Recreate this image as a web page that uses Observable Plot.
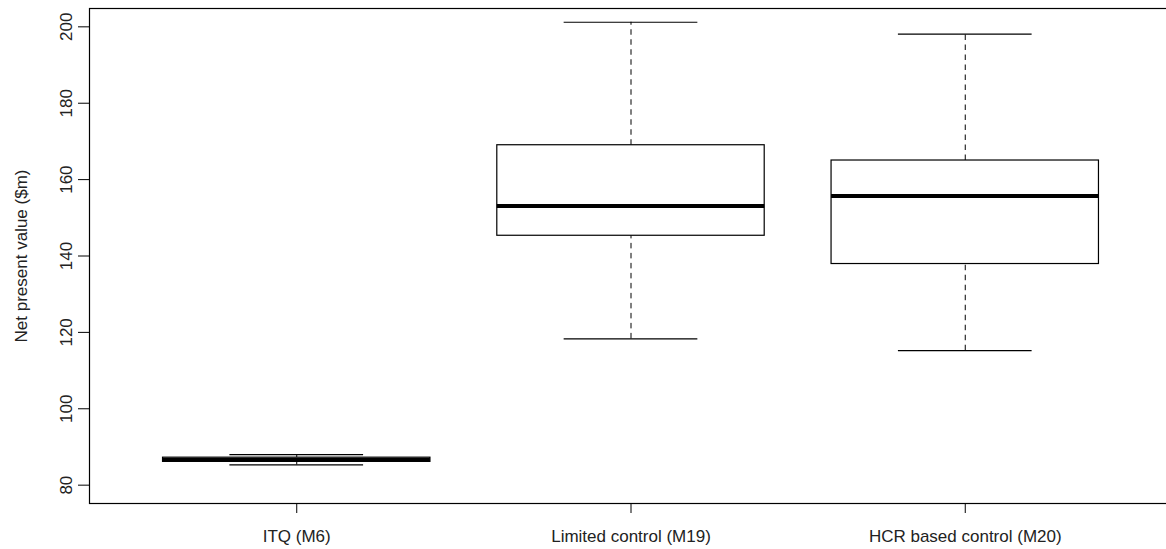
<!DOCTYPE html>
<html>
<head>
<meta charset="utf-8">
<script src="https://cdn.jsdelivr.net/npm/d3@7"></script>
<script src="https://cdn.jsdelivr.net/npm/@observablehq/plot@0.6"></script>
<style>
  html, body { margin: 0; padding: 0; overflow: hidden; background: #fff; }
  #chart { width: 1166px; height: 549px; overflow: hidden; }
  #chart svg { display: block; max-width: none !important; width: 1180px !important; height: 549px !important; }
</style>
</head>
<body>
<div id="chart"></div>
<script>
// Box statistics
const categories   = ["ITQ (M6)", "Limited control (M19)", "HCR based control (M20)"];
const lowerWhisker = [85.3, 118.3, 115.2];
const lowerQuart   = [86.1, 145.3, 137.9];
const medians      = [86.65, 153.1, 155.7];
const upperQuart   = [87.2, 169.0, 165.0];
const upperWhisker = [88.0, 201.2, 198.1];
const yTicks       = [80, 100, 120, 140, 160, 180, 200];
const yLabel       = "Net present value ($m)";

const rows = categories.map((c, i) => ({
  name: c, pos: i + 1,
  lo: lowerWhisker[i], q1: lowerQuart[i], med: medians[i], q3: upperQuart[i], hi: upperWhisker[i]
}));

const font = "Liberation Sans, Arial, sans-serif";
const fs = 17;

const chart = Plot.plot({
  width: 1180,
  height: 549,
  marginLeft: 89,
  marginRight: 8,
  marginTop: 8,
  marginBottom: 46,
  style: { fontFamily: font, fontSize: fs + "px", color: "#222", background: "white" },
  x: { domain: [0.38, 3.62], axis: null },
  y: { domain: [75.2, 204.8], axis: null },
  marks: [
    // whiskers (dashed)
    Plot.ruleX(rows, { x: "pos", y1: "q3", y2: "hi", stroke: "black", strokeWidth: 1, strokeDasharray: "5.5,4.5" }),
    Plot.ruleX(rows, { x: "pos", y1: "lo", y2: "q1", stroke: "black", strokeWidth: 1, strokeDasharray: "5.5,4.5" }),
    // whisker caps
    Plot.ruleY(rows, { y: "hi", x1: d => d.pos - 0.2, x2: d => d.pos + 0.2, stroke: "black", strokeWidth: 1.2 }),
    Plot.ruleY(rows, { y: "lo", x1: d => d.pos - 0.2, x2: d => d.pos + 0.2, stroke: "black", strokeWidth: 1.2 }),
    // boxes
    Plot.rect(rows, { x1: d => d.pos - 0.4, x2: d => d.pos + 0.4, y1: "q1", y2: "q3", fill: "white", stroke: "black", strokeWidth: 1.2 }),
    // medians
    Plot.ruleY(rows, { y: "med", x1: d => d.pos - 0.4, x2: d => d.pos + 0.4, stroke: "black", strokeWidth: 4 }),
    // frame (right edge falls outside the visible window)
    Plot.frame({ stroke: "black", strokeWidth: 1.2 }),
    // x axis
    Plot.axisX({
      ticks: [1, 2, 3],
      tickFormat: d => categories[d - 1],
      tickSize: 10,
      tickPadding: 16,
      stroke: "black",
      fontSize: fs,
      fill: "#222",
      label: null
    }),
    // y axis ticks
    Plot.axisY({
      ticks: yTicks,
      tickSize: 11,
      tickFormat: () => "",
      stroke: "black",
      label: null
    }),
    // y tick labels (rotated, as in R)
    Plot.text(yTicks, {
      y: d => d, frameAnchor: "left", text: d => String(d),
      rotate: -90, dx: -18, textAnchor: "middle", lineAnchor: "bottom",
      fontSize: fs, fill: "#222"
    }),
    // y axis label
    Plot.text([yLabel], {
      frameAnchor: "left", text: d => d,
      rotate: -90, dx: -62.5, textAnchor: "middle", lineAnchor: "bottom",
      fontSize: fs, fill: "#222"
    })
  ]
});

document.getElementById("chart").appendChild(chart);
</script>
</body>
</html>
